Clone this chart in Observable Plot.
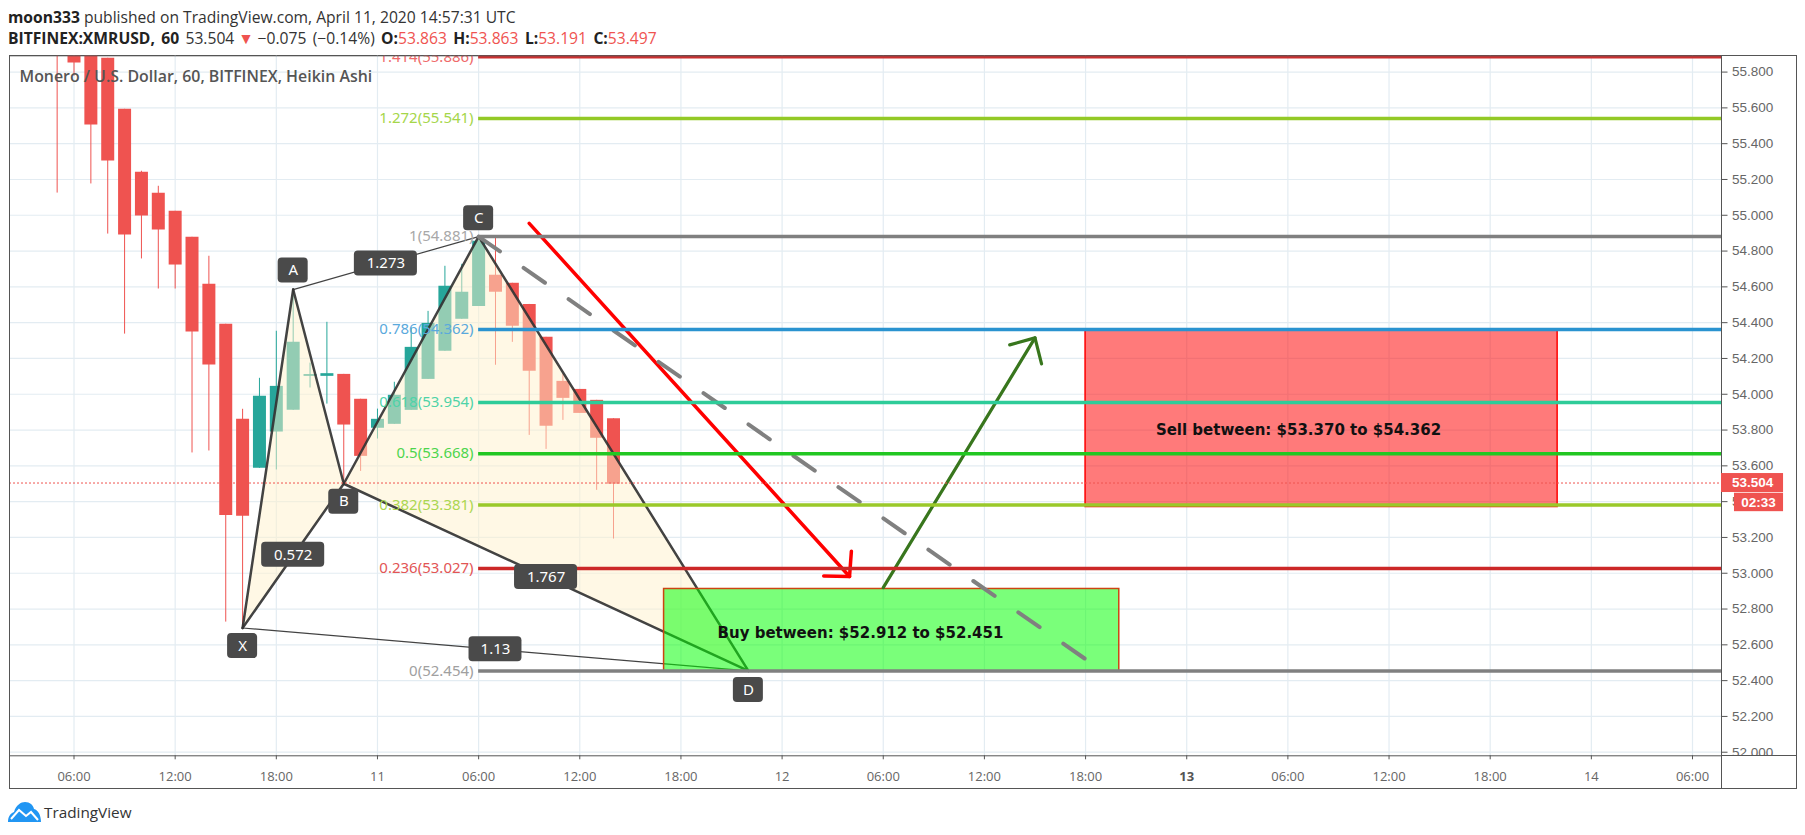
<!DOCTYPE html>
<html><head><meta charset="utf-8">
<script src="https://cdn.jsdelivr.net/npm/d3@7"></script>
<script src="https://cdn.jsdelivr.net/npm/@observablehq/plot@0.6"></script>
<style>
html,body{margin:0;background:#fff;}
body{position:relative;width:1805px;height:835px;overflow:hidden;font-family:"Open Sans",sans-serif;}
.hd{position:absolute;left:8px;font-size:15.65px;color:#333;white-space:nowrap;}
.hd b{color:#222}
.r{color:#ef5350}
.tri{color:#ef5350;display:inline-block;margin:0 -2.5px;}
#outer{position:absolute;left:9px;top:55px;width:1786px;height:732px;border:1px solid #555;}
#corner{position:absolute;left:1721px;top:755px;width:74px;height:32px;background:#fff;border-left:1px solid #555;border-top:1px solid #555;}
#chart{position:absolute;left:0;top:50px;}
#logo{position:absolute;left:8px;top:802px;display:flex;align-items:center;gap:3px;font-size:15.3px;color:#333;}
</style></head><body>
<div class="hd" style="top:6px"><b>moon333</b> published on TradingView.com, April 11, 2020 14:57:31 UTC</div>
<div class="hd" style="top:27px;word-spacing:2.3px"><b>BITFINEX:XMRUSD, 60</b> 53.504 <span class="tri">▼</span> −0.075 (−0.14%) <b>O:</b><span class="r">53.863</span> <b>H:</b><span class="r">53.863</span> <b>L:</b><span class="r">53.191</span> <b>C:</b><span class="r">53.497</span></div>
<div id="outer"></div>
<div id="chart"></div>
<div id="corner"></div>
<div id="logo"><svg width="33" height="20" viewBox="0 0 33 20"><path d="M0 20 C0 14 3 11 6 10 C8 3 13 0 17 0 C22 0 25 3 26 7 C30 8 33 13 33 20 Z" fill="#2196f3"/><path d="M3 17 L11 8 L18 14 L23 10 L30 18" fill="none" stroke="#fff" stroke-width="2"/></svg><span>TradingView</span></div>
<script>
// Hours counted from 2020-04-10 00:00 UTC
const hours = [5,6,7,8,9,10,11,12,13,14,15,16,17,18,19,20,21,22,23,24,25,26,27,28,29,30,31,32,33,34,35,36,37,38];
const opens = [56.3,56.2,56.1,55.877,55.592,55.24,55.123,55.022,54.877,54.614,54.391,53.86,53.586,53.789,53.91,54.1,54.1,54.111,53.972,53.81,53.832,53.91,54.083,54.24,54.419,54.491,54.665,54.62,54.502,54.318,54.072,54.027,53.966,53.863];
const closes = [55.95,55.851,55.504,55.303,54.89,54.996,54.918,54.722,54.348,54.163,53.323,53.318,53.989,54.044,54.29,54.11,54.115,53.828,53.653,53.86,53.994,54.262,54.396,54.603,54.57,54.855,54.57,54.38,54.128,53.821,53.977,53.893,53.754,53.497];
const highs = [56.4,56.2,56.1,55.877,55.592,55.246,55.162,55.022,54.877,54.771,54.391,53.916,54.089,54.352,54.586,54.174,54.402,54.111,53.972,53.917,54.067,54.37,54.463,54.715,54.726,54.877,54.877,54.62,54.502,54.318,54.111,54.027,53.966,53.863];
const lows = [55.124,55.777,55.175,54.895,54.336,54.756,54.588,54.588,53.672,53.683,52.727,52.698,53.586,53.577,53.91,54.035,53.945,53.497,53.569,53.75,53.832,53.91,54.083,54.24,54.419,54.491,54.162,54.29,53.77,53.692,53.854,53.893,53.463,53.191];

const priceTicks = [52,52.2,52.4,52.6,52.8,53,53.2,53.4,53.6,53.8,54,54.2,54.4,54.6,54.8,55,55.2,55.4,55.6,55.8];
const timeTicks = [6,12,18,24,30,36,42,48,54,60,66,72,78,84,90,96,102];
const timeLabels = ["06:00","12:00","18:00","11","06:00","12:00","18:00","12","06:00","12:00","18:00","13","06:00","12:00","18:00","14","06:00"];

const fibRatios = ["1.414","1.272","1","0.786","0.618","0.5","0.382","0.236","0"];
const fibPrices = [55.886,55.541,54.881,54.362,53.954,53.668,53.381,53.027,52.454];
const fibColors = ["#cc2f2f","#93c926","#808080","#2a93d0","#2ecc99","#22c722","#9ac92a","#cc2828","#808080"];
const fibLabelColors = ["#ef6a6a","#a5d64a","#a8a8a8","#5aa9dc","#4fd3a8","#4dd54d","#acd650","#e25555","#a0a0a0"];
const fibStart = 30;

const patternNames = ["X","A","B","C","D"];
const patternHours = [16,19,22,30,46];
const patternPrices = [52.694,54.585,53.50,54.881,52.454];

const badgeText = ["C","A","1.273","X","B","0.572","1.767","1.13","D"];
const badgeHours = [30,19,24.5,16,22,19,34,31,46];
const badgePrices = [54.984,54.691,54.73,52.593,53.40,53.103,52.979,52.575,52.347];
const badgeSpans = [1.78,1.78,3.74,1.78,1.78,3.74,3.74,3.14,1.78];

const zoneHours = [[66,94],[41,68]];
const zonePrices = [[53.37,54.362],[52.451,52.912]];
const zoneText = ["Sell between: $53.370 to $54.362","Buy between: $52.912 to $52.451"];
const zoneTextHours = [78.63,52.65];
const zoneTextPrices = [53.797,52.665];

const redArrowHours = [33,52], redArrowPrices = [54.955,52.982];
const redHeadHours = [52.11,52,50.47], redHeadPrices = [53.123,52.982,52.985];
const greenArrowHours = [54,63], greenArrowPrices = [52.92,54.315];
const greenHeadHours = [61.5,63,63.39], greenHeadPrices = [54.276,54.315,54.17];
const dashHours = [30,66], dashPrices = [54.881,52.52];

const lastPrice = 53.504;
const countdown = "02:33";

const candles = hours.map((h,i)=>({h,o:opens[i],c:closes[i],hi:highs[i],lo:lows[i],color:closes[i]>=opens[i]?"#26a69a":"#ef5350"}));
const fibs = fibRatios.map((r,i)=>({label:`${r}(${fibPrices[i].toFixed(3)})`,p:fibPrices[i],color:fibColors[i],lc:fibLabelColors[i]}));
const pts = patternNames.map((n,i)=>({n,h:patternHours[i],p:patternPrices[i]}));
const P = Object.fromEntries(pts.map(d=>[d.n,d]));
const badges = badgeText.map((t,i)=>({t,h:badgeHours[i],p:badgePrices[i],s:badgeSpans[i]}));
const seq = (xs,ys)=>xs.map((h,i)=>({h,p:ys[i]}));
const xMin=2.174, xMax=103.72, yMin=51.98, yMax=55.891;
const BH=0.0698; // half height of a badge, in price units

const segment=(a,b,w)=>Plot.line([a,b],{x:"h",y:"p",stroke:"#333",strokeOpacity:.92,strokeWidth:w,clip:true});

const chart = Plot.plot({
  width:1805,height:745,marginLeft:9,marginRight:84,marginTop:5.3,marginBottom:39.7,
  style:{background:"transparent",fontFamily:"'Liberation Sans',sans-serif"},
  x:{type:"linear",domain:[xMin,xMax],axis:null},
  y:{type:"linear",domain:[yMin,yMax],axis:null},
  marks:[
    Plot.ruleX(timeTicks,{stroke:"#e3ecf2",strokeWidth:1.2}),
    Plot.ruleY(priceTicks,{stroke:"#e3ecf2",strokeWidth:1.2}),
    Plot.ruleX(candles,{x:"h",y1:"lo",y2:"hi",stroke:"color",strokeWidth:1,clip:true}),
    Plot.ruleX(candles,{x:"h",y1:"o",y2:"c",stroke:"color",strokeWidth:13,clip:true}),
    Plot.text(["Monero / U.S. Dollar, 60, BITFINEX, Heikin Ashi"],{frameAnchor:"top-left",textAnchor:"start",lineAnchor:"middle",dx:10,dy:21.4,fontSize:15.9,fontWeight:600,fontFamily:"'Open Sans',sans-serif",fill:"#555"}),
    // pattern fills
    Plot.line([P.X,P.A,P.B,P.X],{x:"h",y:"p",fill:"#fff1cb",fillOpacity:.5,stroke:null}),
    Plot.line([P.B,P.C,P.D,P.B],{x:"h",y:"p",fill:"#fff1cb",fillOpacity:.5,stroke:null}),
    segment(P.X,P.A,2.5),segment(P.A,P.B,2.5),segment(P.B,P.X,2.5),
    segment(P.B,P.C,2.5),segment(P.C,P.D,2.5),segment(P.B,P.D,2.5),
    segment(P.A,P.C,1.2),segment(P.X,P.D,1.2),
    // zones
    Plot.rect([0],{x1:zoneHours[0][0],x2:zoneHours[0][1],y1:zonePrices[0][0],y2:zonePrices[0][1],fill:"#ff0000",fillOpacity:.52,stroke:"#ff0000",strokeWidth:1.5}),
    Plot.rect([0],{x1:zoneHours[1][0],x2:zoneHours[1][1],y1:zonePrices[1][0],y2:zonePrices[1][1],fill:"#00ff00",fillOpacity:.52,stroke:"#cc4411",strokeWidth:1.5}),
    // arrows
    Plot.line(seq(redArrowHours,redArrowPrices),{x:"h",y:"p",stroke:"#ff0000",strokeWidth:3.5}),
    Plot.line(seq(redHeadHours,redHeadPrices),{x:"h",y:"p",stroke:"#ff0000",strokeWidth:3.5}),
    Plot.line(seq(greenArrowHours,greenArrowPrices),{x:"h",y:"p",stroke:"#38761d",strokeWidth:3.2}),
    Plot.line(seq(greenHeadHours,greenHeadPrices),{x:"h",y:"p",stroke:"#38761d",strokeWidth:3.2}),
    Plot.line(seq(dashHours,dashPrices),{x:"h",y:"p",stroke:"#808080",strokeWidth:4,strokeDasharray:"26,28.8"}),
    // last price
    Plot.ruleY([lastPrice],{stroke:"#ef5350",strokeWidth:1,strokeDasharray:"2,2"}),
    // fib levels
    Plot.ruleY(fibs,{x1:fibStart,x2:xMax,y:"p",stroke:"color",strokeWidth:3.5,clip:true}),
    Plot.text(fibs,{x:fibStart,y:"p",text:"label",fill:"lc",textAnchor:"end",dx:-5,fontSize:15,fontFamily:"'Noto Sans',sans-serif",clip:true}),
    Plot.text(zoneText,{x:(d,i)=>zoneTextHours[i],y:(d,i)=>zoneTextPrices[i],text:d=>d,fill:"#111",fontSize:15,fontWeight:700,fontFamily:"'DejaVu Sans',sans-serif"}),
    // badges
    Plot.rect(badges,{x1:d=>d.h-d.s/2,x2:d=>d.h+d.s/2,y1:d=>d.p-BH,y2:d=>d.p+BH,fill:"#4a4a4a",rx:4}),
    Plot.text(badges,{x:"h",y:"p",text:"t",fill:"#fff",fontSize:15,fontFamily:"'Noto Sans',sans-serif"}),
    // axes
    Plot.frame({stroke:"#555"}),
    Plot.axisY(priceTicks,{anchor:"right",tickSize:5.5,tickPadding:5,tickFormat:d3.format(".3f"),fontSize:13.5,color:"#666",stroke:"#555",label:null}),
    Plot.axisX(timeTicks.filter(t=>t!==72),{anchor:"bottom",tickSize:4,tickPadding:11.5,tickFormat:t=>timeLabels[timeTicks.indexOf(t)],fontSize:13,color:"#666",stroke:"#555",label:null,fontFamily:"'Open Sans',sans-serif"}),
    Plot.axisX([72],{anchor:"bottom",tickSize:4,tickPadding:11.5,tickFormat:t=>timeLabels[timeTicks.indexOf(t)],fontSize:13,fontWeight:700,color:"#555",stroke:"#555",label:null,fontFamily:"'Open Sans',sans-serif"}),
    // price tags
    Plot.rect([0],{x1:xMax,x2:xMax+3.68,y1:lastPrice-0.053,y2:lastPrice+0.053,fill:"#ef5350"}),
    Plot.rect([0],{x1:xMax+0.77,x2:xMax+3.68,y1:lastPrice-0.16,y2:lastPrice-0.057,fill:"#ef5350"}),
    Plot.text([lastPrice.toFixed(3)],{x:xMax+1.84,y:lastPrice,fill:"#fff",fontWeight:700,fontSize:13.5}),
    Plot.text([countdown],{x:xMax+2.2,y:lastPrice-0.108,fill:"#fff",fontWeight:700,fontSize:13.5})
  ]
});
document.getElementById("chart").appendChild(chart);
</script>
</body></html>
